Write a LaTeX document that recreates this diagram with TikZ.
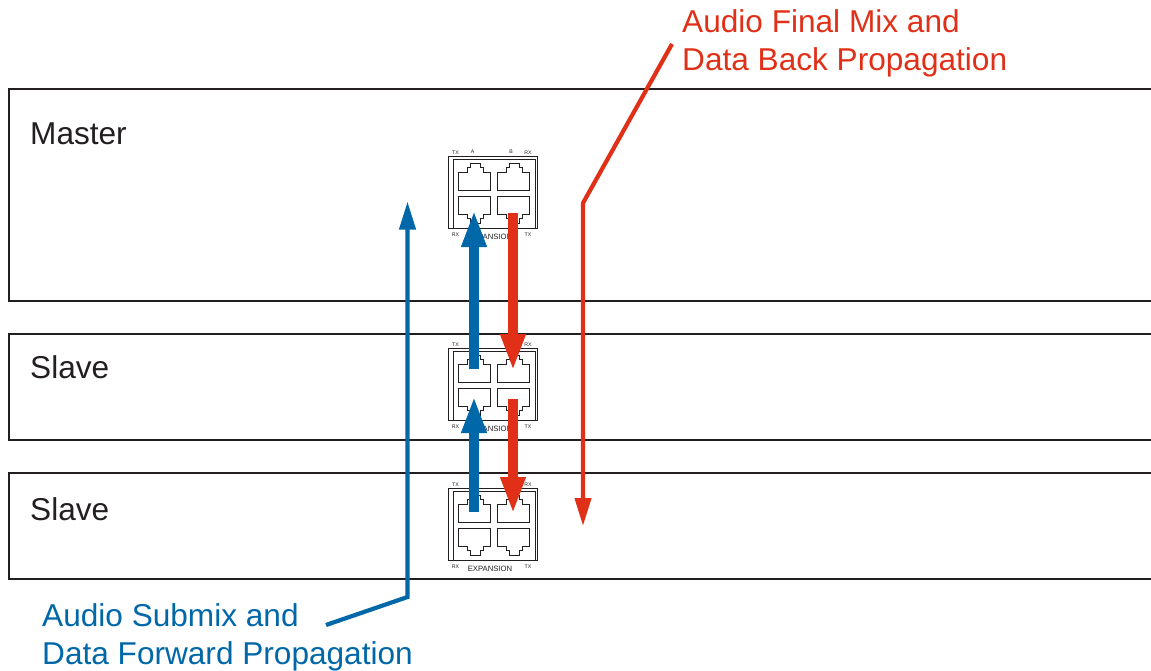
\documentclass[tikz,border=0pt]{standalone}
\usepackage{fontspec}
\setmainfont{Liberation Sans}
\usetikzlibrary{arrows.meta}
\definecolor{mixred}{RGB}{224,48,24}
\definecolor{subblue}{RGB}{0,103,168}
\definecolor{rackdark}{RGB}{35,31,32}

\tikzset{
  rack/.style={draw=rackdark, line width=1.8pt},
  panel/.style={draw=rackdark, line width=0.9pt, minimum width=89pt, minimum height=72pt, inner sep=0pt, outer sep=0pt},
  tiny label/.style={font=\fontsize{5.2}{6}\selectfont, text=rackdark, inner sep=0pt},
  exp label/.style={font=\fontsize{7.7}{9}\selectfont, text=rackdark, inner sep=0pt},
  rack label/.style={font=\fontsize{31.6}{38}\selectfont, text=rackdark, inner sep=0pt, anchor=base west},
  call label/.style={font=\fontsize{31.6}{38}\selectfont, inner sep=0pt, anchor=base west, align=left},
  thin arr/.style={line width=4.2pt, -{Triangle[length=28pt, width=16pt]}},
  fat arr/.style={line width=9.5pt, -{Triangle[length=37pt, width=23pt]}},
  jack/.pic={
    \draw[draw=rackdark, line width=0.9pt]
      (-16.25,13.5) -- (-16.25,-4.5) -- (-6.75,-4.5) -- (-6.75,-9) -- (-4.25,-9) -- (-4.25,-13.5)
      -- (5.75,-13.5) -- (5.75,-9) -- (8.75,-9) -- (8.75,-4.5) -- (16.25,-4.5) -- (16.25,13.5) -- cycle;
  }
}

% one expansion panel: name, centre y
\newcommand{\expanel}[2]{
  \node[panel] (#1) at (492.5,#2) {};
  \draw[draw=rackdark, line width=0.9pt] (453,#2-33) rectangle (535,#2+36);
  \pic at (474.25,#2-15.5) {jack};
  \pic at (513.25,#2-15.5) {jack};
  \pic[yscale=-1] at (474.25,#2+17.5) {jack};
  \pic[yscale=-1] at (513.25,#2+17.5) {jack};
  \node[tiny label] (#1-tx) at (455.5,#2-39) {TX};
  \node[tiny label] (#1-rx) at (528,#2-39) {RX};
  \node[tiny label] (#1-rxb) at (455.5,#2+43) {RX};
  \node[tiny label] (#1-txb) at (528,#2+43) {TX};
  \node[exp label] (#1-exp) at (490,#2+45) {EXPANSION};
}

\begin{document}
\begin{tikzpicture}[x=1pt, y=-1pt]
  \useasboundingbox (0,0) rectangle (1151,670);

  % racks, open on the right
  \draw[rack] (1153,89) -- (9,89) -- (9,301) -- (1153,301);
  \draw[rack] (1153,334) -- (9,334) -- (9,440) -- (1153,440);
  \draw[rack] (1153,473) -- (9,473) -- (9,579) -- (1153,579);

  \node[rack label] (master) at (30,144) {Master};
  \node[rack label] (slave1) at (30,378) {Slave};
  \node[rack label] (slave2) at (30,520) {Slave};

  \expanel{pm}{192}
  \expanel{ps}{384}
  \expanel{pt}{524}
  \node[tiny label] (pm-a) at (472.5,151.5) {A};
  \node[tiny label] (pm-b) at (511,151.5) {B};

  \node[call label, text=mixred] (backlabel) at (682,70) {Audio Final Mix and\\Data Back Propagation};
  \node[call label, text=subblue] (fwdlabel) at (42,664) {Audio Submix and\\Data Forward Propagation};

  \coordinate (fwd0) at (326,625);
  \coordinate (fwd1) at (407.5,597);
  \coordinate (fwd2) at (407.5,201.5);
  \coordinate (back0) at (672,44);
  \coordinate (back1) at (583,203);
  \coordinate (back2) at (583,526);

  \coordinate (mjl) at (474,210);
  \coordinate (mjr) at (513,213);
  \coordinate (sjlt) at (474,369);
  \coordinate (sjrt) at (513,371);
  \coordinate (sjlb) at (474,396);
  \coordinate (sjrb) at (513,399);
  \coordinate (tjl) at (474,512);
  \coordinate (tjr) at (513,514);

  \draw[thin arr, draw=subblue] (fwd0) -- (fwd1) -- (fwd2);
  \draw[thin arr, draw=mixred] (back0) -- (back1) -- (back2);

  \draw[fat arr, draw=subblue] (sjlt) -- (mjl);
  \draw[fat arr, draw=subblue] (tjl) -- (sjlb);
  \draw[fat arr, draw=mixred] (mjr) -- (sjrt);
  \draw[fat arr, draw=mixred] (sjrb) -- (tjr);
\end{tikzpicture}
\end{document}
